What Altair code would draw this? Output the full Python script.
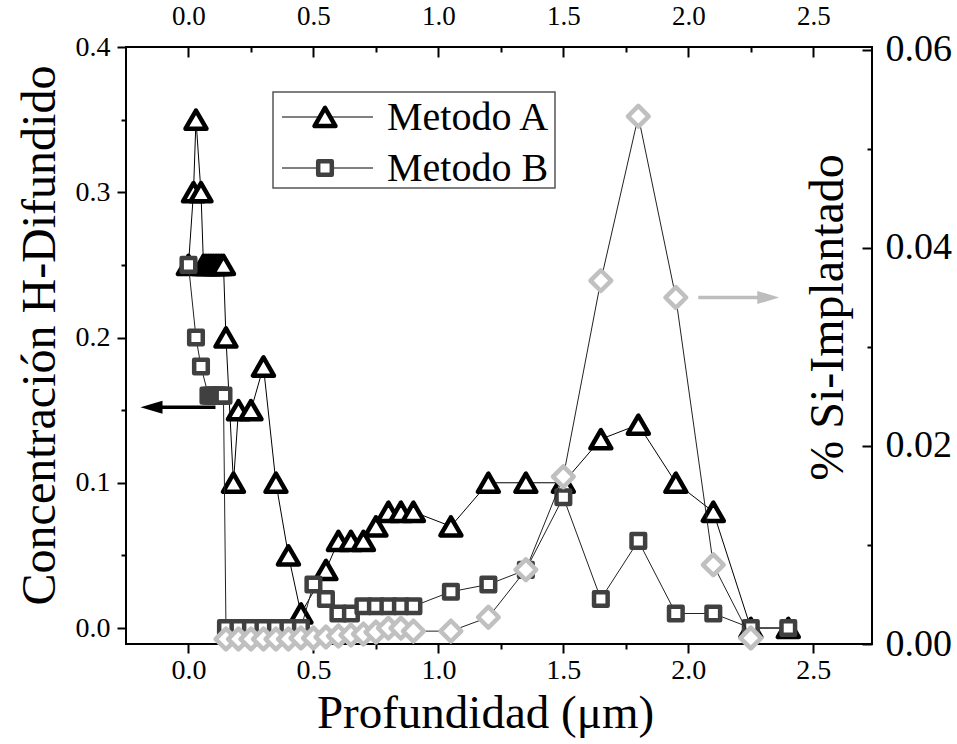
import altair as alt
import pandas as pd

FONT = "Liberation Serif"

# ---------------- data ----------------
A_x = [0.00, 0.02, 0.03, 0.05, 0.06, 0.07, 0.08, 0.09, 0.10, 0.11, 0.12, 0.13, 0.14,
       0.15, 0.18, 0.20, 0.25, 0.30, 0.35, 0.40, 0.45, 0.55, 0.60, 0.65, 0.70, 0.75,
       0.80, 0.85, 0.90, 1.05, 1.20, 1.35, 1.50, 1.65, 1.80, 1.95, 2.10, 2.25, 2.40]
A_y = [0.25, 0.30, 0.35, 0.30, 0.25, 0.25, 0.25, 0.25, 0.25, 0.25, 0.25, 0.25, 0.25,
       0.20, 0.10, 0.15, 0.15, 0.18, 0.10, 0.05, 0.01, 0.04, 0.06, 0.06, 0.06, 0.07,
       0.08, 0.08, 0.08, 0.07, 0.10, 0.10, 0.10, 0.13, 0.14, 0.10, 0.08, 0.00, 0.00]

B_x = [0.00, 0.03, 0.05, 0.08, 0.09, 0.10, 0.11, 0.12, 0.13, 0.14,
       0.15, 0.20, 0.25, 0.30, 0.35, 0.40, 0.45, 0.50, 0.55, 0.60,
       0.65, 0.70, 0.75, 0.80, 0.85, 0.90, 1.05, 1.20, 1.35, 1.50,
       1.65, 1.80, 1.95, 2.10, 2.25, 2.40]
B_y = [0.25, 0.20, 0.18, 0.16, 0.16, 0.16, 0.16, 0.16, 0.16, 0.16,
       0.00, 0.00, 0.00, 0.00, 0.00, 0.00, 0.00, 0.03, 0.02, 0.01,
       0.01, 0.015, 0.015, 0.015, 0.015, 0.015, 0.025, 0.03, 0.04, 0.09,
       0.02, 0.06, 0.01, 0.01, 0.00, 0.00]

Si_x = [0.15, 0.20, 0.25, 0.30, 0.35, 0.40, 0.45, 0.50, 0.55, 0.60, 0.65, 0.70, 0.75,
        0.80, 0.85, 0.90, 1.05, 1.20, 1.35, 1.50, 1.65, 1.80, 1.95, 2.10, 2.25]
Si_y = [0.0005, 0.0005, 0.0005, 0.0005, 0.0005, 0.0005, 0.0006, 0.0006, 0.0007, 0.0008,
        0.0009, 0.0010, 0.0012, 0.0016, 0.0016, 0.0013, 0.0013, 0.0027, 0.0075, 0.0169,
        0.0367, 0.0533, 0.0350, 0.0080, 0.0006]

x_major = [0.0, 0.5, 1.0, 1.5, 2.0, 2.5]
x_minor = [0.25, 0.75, 1.25, 1.75, 2.25]
yl_major = [0.0, 0.1, 0.2, 0.3, 0.4]
yl_minor = [0.05, 0.15, 0.25, 0.35]
yr_major = [0.00, 0.02, 0.04, 0.06]
yr_minor = [0.01, 0.03, 0.05]

# annotation arrows (data coordinates)
arrowL_x = [-0.148, 0.108]   # head centre, tail
arrowL_y = 0.152             # left axis
arrowR_x = [2.04, 2.32]      # tail, head centre
arrowR_y = 0.035             # right axis

legend_labels = ["Metodo A", "Metodo B"]

# ---------------- scales / axes ----------------
xs = alt.Scale(domain=[-0.25, 2.735], nice=False, zero=False)
ysL = alt.Scale(domain=[-0.011, 0.4], nice=False, zero=False)
ysR = alt.Scale(domain=[0, 0.0603], nice=False, zero=False)

common = dict(grid=False, domain=False, tickColor="black", tickWidth=2,
              labelFont=FONT, labelColor="black", labelFlush=False,
              labelOverlap=False, titleFont=FONT, titleColor="black",
              titleFontWeight="normal")

ax_bottom = alt.Axis(orient="bottom", values=x_major, format=".1f", tickSize=9,
                     labelFontSize=28, labelPadding=3,
                     title="Profundidad (μm)", titleFontSize=47,
                     titleX=359, titleY=83, titleAlign="center",
                     titleBaseline="alphabetic", **common)
ax_bottom_minor = alt.Axis(orient="bottom", values=x_minor, tickSize=5,
                           labels=False, title=None, **common)
ax_top = alt.Axis(orient="top", values=x_major, format=".1f", offset=-10,
                  tickSize=10, labelFontSize=27, labelPadding=17, title=None,
                  **common)
ax_top_minor = alt.Axis(orient="top", values=x_minor, offset=-5, tickSize=5,
                        labels=False, title=None, **common)

ay_left = alt.Axis(orient="left", values=yl_major, format=".1f", tickSize=9,
                   labelFontSize=28, labelPadding=7,
                   title="Concentración H-Difundido", titleFontSize=48,
                   titleAngle=270, titleX=-86, titleY=288, titleAlign="center",
                   titleBaseline="middle", **common)
ay_left_minor = alt.Axis(orient="left", values=yl_minor, tickSize=5,
                         labels=False, title=None, **common)
ay_right = alt.Axis(orient="right", values=yr_major, format=".2f", offset=-10,
                    tickSize=10, labelFontSize=38, labelPadding=13,
                    title="% Si-Implantado", titleFontSize=48,
                    titleAngle=270, titleX=-34, titleY=270, titleAlign="center",
                    titleBaseline="middle", **common)
ay_right_minor = alt.Axis(orient="right", values=yr_minor, offset=-5, tickSize=5,
                          labels=False, title=None, **common)

dfA = pd.DataFrame({"x": A_x, "y": A_y})
dfB = pd.DataFrame({"x": B_x, "y": B_y})
dfS = pd.DataFrame({"x": Si_x, "y": Si_y})
dfArrL = pd.DataFrame({"x": [arrowL_x[0]], "x2": [arrowL_x[1]], "y": [arrowL_y]})
dfArrR = pd.DataFrame({"x": [arrowR_x[0]], "x2": [arrowR_x[1]], "y": [arrowR_y]})

XB = alt.X("x:Q", scale=xs, axis=ax_bottom)
YL = alt.Y("y:Q", scale=ysL, axis=ay_left)
XT = alt.X("x:Q", scale=xs, axis=ax_top)
YR = alt.Y("y:Q", scale=ysR, axis=ay_right)

TRI = dict(shape="triangle-up", size=440, filled=True, fill="white",
           stroke="black", strokeWidth=4.5, strokeJoin="round", opacity=1)
SQR = dict(shape="square", size=185, filled=True, fill="white",
           stroke="#404040", strokeWidth=4.5, strokeJoin="round", opacity=1)
DIA = dict(shape="diamond", size=430, filled=True, fill="white",
           stroke="#c0c0c0", strokeWidth=4.5, strokeJoin="round", opacity=1)

lineA = alt.Chart(dfA).mark_line(color="black", strokeWidth=1).encode(x=XB, y=YL)
ptsA = alt.Chart(dfA).mark_point(**TRI).encode(x=XB, y=YL)
lineB = alt.Chart(dfB).mark_line(color="#222222", strokeWidth=1).encode(x=XB, y=YL)
ptsB = alt.Chart(dfB).mark_point(**SQR).encode(x=XB, y=YL)
arrL_shaft = alt.Chart(dfArrL).mark_rule(color="black", strokeWidth=3.5).encode(
    x=XB, x2="x2:Q", y=YL)
arrL_head = alt.Chart(dfArrL).mark_point(
    shape="M-1,0L1,-0.6L1,0.6Z", size=484, filled=True, color="black",
    opacity=1, strokeWidth=0).encode(x=XB, y=YL)

left_group = alt.layer(lineA, ptsA, lineB, ptsB, arrL_shaft, arrL_head)
left_minor = alt.Chart(dfA).mark_point(opacity=0).encode(
    x=alt.X("x:Q", scale=xs, axis=ax_bottom_minor),
    y=alt.Y("y:Q", scale=ysL, axis=ay_left_minor))

lineS = alt.Chart(dfS).mark_line(color="#222222", strokeWidth=1).encode(x=XT, y=YR)
ptsS = alt.Chart(dfS).mark_point(**DIA).encode(x=XT, y=YR)
arrR_shaft = alt.Chart(dfArrR).mark_rule(color="#bdbdbd", strokeWidth=3.5).encode(
    x=XT, x2="x2:Q", y=YR)
arrR_head = alt.Chart(dfArrR).mark_point(
    shape="M1,0L-1,-0.6L-1,0.6Z", size=484, filled=True, color="#bdbdbd",
    opacity=1, strokeWidth=0).encode(x=alt.X("x2:Q", scale=xs, axis=ax_top), y=YR)

right_group = alt.layer(lineS, ptsS, arrR_shaft, arrR_head)
right_minor = alt.Chart(dfS).mark_point(opacity=0).encode(
    x=alt.X("x:Q", scale=xs, axis=ax_top_minor),
    y=alt.Y("y:Q", scale=ysR, axis=ay_right_minor))

# ---------------- legend ----------------
one = pd.DataFrame({"k": [0]})
leg_box = alt.Chart(one).mark_rect(fill="white", stroke="#555555", strokeWidth=1.5).encode(
    x=alt.value(147), x2=alt.value(429), y=alt.value(45), y2=alt.value(141))
legA_line = alt.Chart(one).mark_rule(color="black", strokeWidth=1).encode(
    x=alt.value(156), x2=alt.value(247), y=alt.value(70))
legA_pt = alt.Chart(one).mark_point(**TRI).encode(x=alt.value(199), y=alt.value(70))
legA_txt = alt.Chart(one).mark_text(text=legend_labels[0], font=FONT, fontSize=40,
                                    align="left", baseline="alphabetic",
                                    color="black").encode(x=alt.value(261), y=alt.value(83))
legB_line = alt.Chart(one).mark_rule(color="black", strokeWidth=1).encode(
    x=alt.value(156), x2=alt.value(247), y=alt.value(121))
legB_pt = alt.Chart(one).mark_point(**SQR).encode(x=alt.value(199), y=alt.value(121))
legB_txt = alt.Chart(one).mark_text(text=legend_labels[1], font=FONT, fontSize=40,
                                    align="left", baseline="alphabetic",
                                    color="black").encode(x=alt.value(261), y=alt.value(134))
legend = alt.layer(leg_box, legA_line, legA_pt, legA_txt, legB_line, legB_pt, legB_txt)

chart = alt.layer(left_group, left_minor, right_group, right_minor, legend).resolve_scale(
    y="independent"
).resolve_axis(
    x="independent", y="independent"
).properties(
    width=746, height=597,
    autosize=alt.AutoSizeParams(type="none"),
    padding={"left": 126, "top": 47, "right": 85, "bottom": 100},
    background="white",
).configure_view(stroke="black", strokeWidth=2)

chart.save("out.html", embed_options={"renderer": "svg", "actions": False})
